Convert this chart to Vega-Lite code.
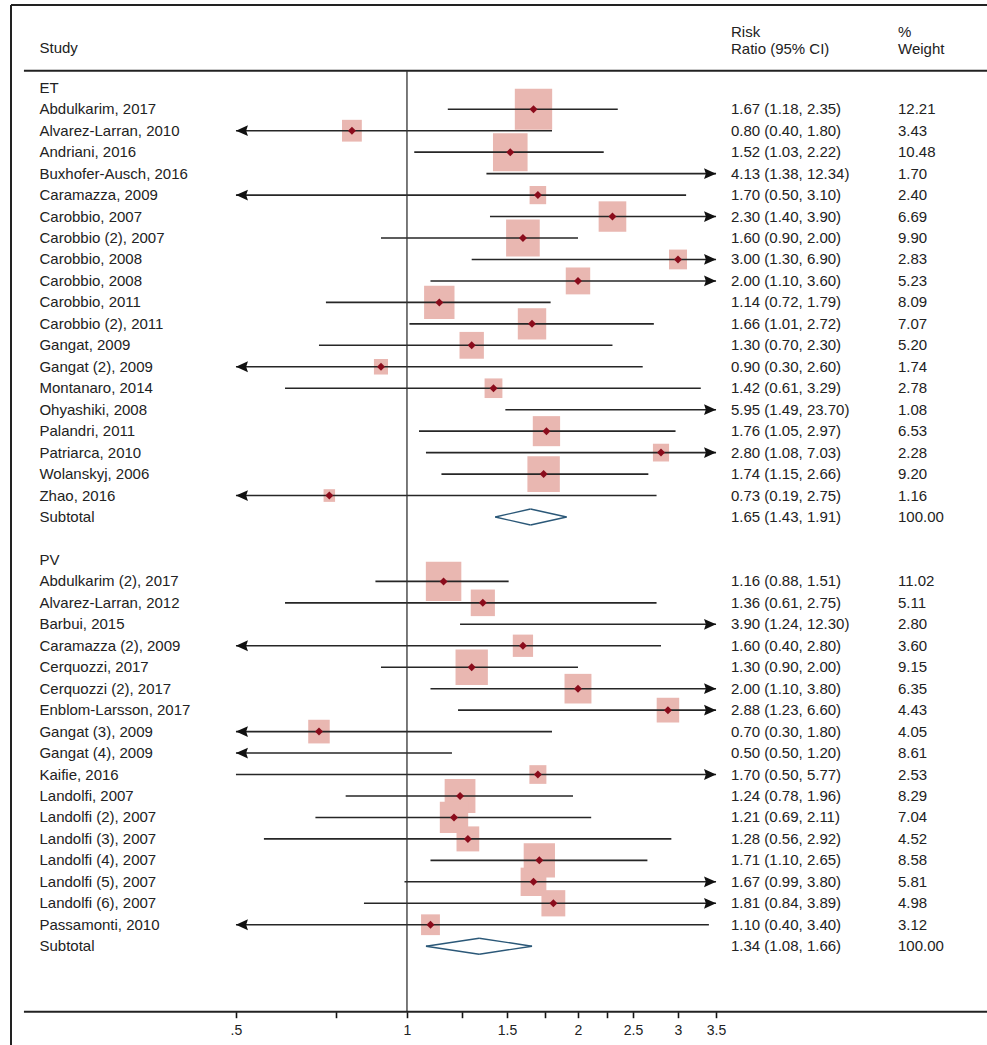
{
  "$schema": "https://vega.github.io/schema/vega-lite/v6.json",
  "width": 976,
  "height": 1040,
  "autosize": {"type": "none"},
  "padding": {"left": 11, "top": 5, "right": 0, "bottom": 0},
  "background": "white",
  "config": {
    "view": {"stroke": null},
    "font": "Liberation Sans",
    "text": {"font": "Liberation Sans", "fontSize": 15, "color": "#222", "align": "left", "baseline": "middle"}
  },
  "datasets": {
    "rows": [
      {"row": 0, "label": "ET", "kind": "group"},
      {"row": 1, "label": "Abdulkarim, 2017", "kind": "study", "rr": 1.67, "lo": 1.18, "hi": 2.35, "ci": "1.67 (1.18, 2.35)", "wt": "12.21", "w": 12.21},
      {"row": 2, "label": "Alvarez-Larran, 2010", "kind": "study", "rr": 0.80, "lo": 0.40, "hi": 1.80, "ci": "0.80 (0.40, 1.80)", "wt": "3.43", "w": 3.43},
      {"row": 3, "label": "Andriani, 2016", "kind": "study", "rr": 1.52, "lo": 1.03, "hi": 2.22, "ci": "1.52 (1.03, 2.22)", "wt": "10.48", "w": 10.48},
      {"row": 4, "label": "Buxhofer-Ausch, 2016", "kind": "study", "rr": 4.13, "lo": 1.38, "hi": 12.34, "ci": "4.13 (1.38, 12.34)", "wt": "1.70", "w": 1.70},
      {"row": 5, "label": "Caramazza, 2009", "kind": "study", "rr": 1.70, "lo": 0.497, "hi": 3.10, "ci": "1.70 (0.50, 3.10)", "wt": "2.40", "w": 2.40},
      {"row": 6, "label": "Carobbio, 2007", "kind": "study", "rr": 2.30, "lo": 1.40, "hi": 3.90, "ci": "2.30 (1.40, 3.90)", "wt": "6.69", "w": 6.69},
      {"row": 7, "label": "Carobbio (2), 2007", "kind": "study", "rr": 1.60, "lo": 0.90, "hi": 2.00, "ci": "1.60 (0.90, 2.00)", "wt": "9.90", "w": 9.90},
      {"row": 8, "label": "Carobbio, 2008", "kind": "study", "rr": 3.00, "lo": 1.30, "hi": 6.90, "ci": "3.00 (1.30, 6.90)", "wt": "2.83", "w": 2.83},
      {"row": 9, "label": "Carobbio, 2008", "kind": "study", "rr": 2.00, "lo": 1.10, "hi": 3.60, "ci": "2.00 (1.10, 3.60)", "wt": "5.23", "w": 5.23},
      {"row": 10, "label": "Carobbio, 2011", "kind": "study", "rr": 1.14, "lo": 0.72, "hi": 1.79, "ci": "1.14 (0.72, 1.79)", "wt": "8.09", "w": 8.09},
      {"row": 11, "label": "Carobbio (2), 2011", "kind": "study", "rr": 1.66, "lo": 1.01, "hi": 2.72, "ci": "1.66 (1.01, 2.72)", "wt": "7.07", "w": 7.07},
      {"row": 12, "label": "Gangat, 2009", "kind": "study", "rr": 1.30, "lo": 0.70, "hi": 2.30, "ci": "1.30 (0.70, 2.30)", "wt": "5.20", "w": 5.20},
      {"row": 13, "label": "Gangat (2), 2009", "kind": "study", "rr": 0.90, "lo": 0.30, "hi": 2.60, "ci": "0.90 (0.30, 2.60)", "wt": "1.74", "w": 1.74},
      {"row": 14, "label": "Montanaro, 2014", "kind": "study", "rr": 1.42, "lo": 0.61, "hi": 3.29, "ci": "1.42 (0.61, 3.29)", "wt": "2.78", "w": 2.78},
      {"row": 15, "label": "Ohyashiki, 2008", "kind": "study", "rr": 5.95, "lo": 1.49, "hi": 23.70, "ci": "5.95 (1.49, 23.70)", "wt": "1.08", "w": 1.08},
      {"row": 16, "label": "Palandri, 2011", "kind": "study", "rr": 1.76, "lo": 1.05, "hi": 2.97, "ci": "1.76 (1.05, 2.97)", "wt": "6.53", "w": 6.53},
      {"row": 17, "label": "Patriarca, 2010", "kind": "study", "rr": 2.80, "lo": 1.08, "hi": 7.03, "ci": "2.80 (1.08, 7.03)", "wt": "2.28", "w": 2.28},
      {"row": 18, "label": "Wolanskyj, 2006", "kind": "study", "rr": 1.74, "lo": 1.15, "hi": 2.66, "ci": "1.74 (1.15, 2.66)", "wt": "9.20", "w": 9.20},
      {"row": 19, "label": "Zhao, 2016", "kind": "study", "rr": 0.73, "lo": 0.19, "hi": 2.75, "ci": "0.73 (0.19, 2.75)", "wt": "1.16", "w": 1.16},
      {"row": 20, "label": "Subtotal", "kind": "sub", "rr": 1.65, "lo": 1.43, "hi": 1.91, "ci": "1.65 (1.43, 1.91)", "wt": "100.00", "w": 100},
      {"row": 22, "label": "PV", "kind": "group"},
      {"row": 23, "label": "Abdulkarim (2), 2017", "kind": "study", "rr": 1.16, "lo": 0.88, "hi": 1.51, "ci": "1.16 (0.88, 1.51)", "wt": "11.02", "w": 11.02},
      {"row": 24, "label": "Alvarez-Larran, 2012", "kind": "study", "rr": 1.36, "lo": 0.61, "hi": 2.75, "ci": "1.36 (0.61, 2.75)", "wt": "5.11", "w": 5.11},
      {"row": 25, "label": "Barbui, 2015", "kind": "study", "rr": 3.90, "lo": 1.24, "hi": 12.30, "ci": "3.90 (1.24, 12.30)", "wt": "2.80", "w": 2.80},
      {"row": 26, "label": "Caramazza (2), 2009", "kind": "study", "rr": 1.60, "lo": 0.40, "hi": 2.80, "ci": "1.60 (0.40, 2.80)", "wt": "3.60", "w": 3.60},
      {"row": 27, "label": "Cerquozzi, 2017", "kind": "study", "rr": 1.30, "lo": 0.90, "hi": 2.00, "ci": "1.30 (0.90, 2.00)", "wt": "9.15", "w": 9.15},
      {"row": 28, "label": "Cerquozzi (2), 2017", "kind": "study", "rr": 2.00, "lo": 1.10, "hi": 3.80, "ci": "2.00 (1.10, 3.80)", "wt": "6.35", "w": 6.35},
      {"row": 29, "label": "Enblom-Larsson, 2017", "kind": "study", "rr": 2.88, "lo": 1.23, "hi": 6.60, "ci": "2.88 (1.23, 6.60)", "wt": "4.43", "w": 4.43},
      {"row": 30, "label": "Gangat (3), 2009", "kind": "study", "rr": 0.70, "lo": 0.30, "hi": 1.80, "ci": "0.70 (0.30, 1.80)", "wt": "4.05", "w": 4.05},
      {"row": 31, "label": "Gangat (4), 2009", "kind": "study", "rr": 0.497, "lo": 0.497, "hi": 1.20, "ci": "0.50 (0.50, 1.20)", "wt": "8.61", "w": 8.61},
      {"row": 32, "label": "Kaifie, 2016", "kind": "study", "rr": 1.70, "lo": 0.50, "hi": 5.77, "ci": "1.70 (0.50, 5.77)", "wt": "2.53", "w": 2.53},
      {"row": 33, "label": "Landolfi, 2007", "kind": "study", "rr": 1.24, "lo": 0.78, "hi": 1.96, "ci": "1.24 (0.78, 1.96)", "wt": "8.29", "w": 8.29},
      {"row": 34, "label": "Landolfi (2), 2007", "kind": "study", "rr": 1.21, "lo": 0.69, "hi": 2.11, "ci": "1.21 (0.69, 2.11)", "wt": "7.04", "w": 7.04},
      {"row": 35, "label": "Landolfi (3), 2007", "kind": "study", "rr": 1.28, "lo": 0.56, "hi": 2.92, "ci": "1.28 (0.56, 2.92)", "wt": "4.52", "w": 4.52},
      {"row": 36, "label": "Landolfi (4), 2007", "kind": "study", "rr": 1.71, "lo": 1.10, "hi": 2.65, "ci": "1.71 (1.10, 2.65)", "wt": "8.58", "w": 8.58},
      {"row": 37, "label": "Landolfi (5), 2007", "kind": "study", "rr": 1.67, "lo": 0.99, "hi": 3.80, "ci": "1.67 (0.99, 3.80)", "wt": "5.81", "w": 5.81},
      {"row": 38, "label": "Landolfi (6), 2007", "kind": "study", "rr": 1.81, "lo": 0.84, "hi": 3.89, "ci": "1.81 (0.84, 3.89)", "wt": "4.98", "w": 4.98},
      {"row": 39, "label": "Passamonti, 2010", "kind": "study", "rr": 1.10, "lo": 0.40, "hi": 3.40, "ci": "1.10 (0.40, 3.40)", "wt": "3.12", "w": 3.12},
      {"row": 40, "label": "Subtotal", "kind": "sub", "rr": 1.34, "lo": 1.08, "hi": 1.66, "ci": "1.34 (1.08, 1.66)", "wt": "100.00", "w": 100}
    ]
  },
  "data": {"name": "rows"},
  "layer": [
    {
      "transform": [{"filter": "datum.kind == 'study' && datum.rr >= 0.5 && datum.rr <= 3.5"}],
      "mark": {"type": "point", "shape": "M-1,-1.1L1,-1.1L1,1.1L-1,1.1Z", "filled": true, "fill": "#e9b7b1", "opacity": 1, "strokeWidth": 0},
      "encoding": {
        "x": {"field": "rr", "type": "quantitative", "title": null, "scale": {"type": "log", "domain": [0.2009, 10.496], "nice": false, "zero": false}},
        "y": {"field": "row", "type": "quantitative", "axis": null, "scale": {"domain": [-3.858, 44.604], "reverse": true, "nice": false, "zero": false}},
        "size": {"field": "w", "type": "quantitative", "scale": {"type": "linear", "domain": [0, 12.21], "range": [0, 1395], "zero": true}, "legend": null}
      }
    },
    {
      "transform": [{"filter": "datum.kind == 'study' && datum.lo >= 0.5 && datum.hi <= 3.5"}],
      "mark": {"type": "rule", "stroke": "#262626", "strokeWidth": 1.6},
      "encoding": {
        "x": {
          "field": "lo", "type": "quantitative", "title": null,
          "axis": {
            "values": [0.5, 0.75, 1, 1.25, 1.5, 1.75, 2, 2.25, 2.5, 3, 3.5],
            "format": ".2~f",
            "labelExpr": "datum.value == 0.5 ? '.5' : (datum.value == 0.75 || datum.value == 1.25 || datum.value == 1.75 || datum.value == 2.25) ? '' : datum.label",
            "offset": -33.3,
            "domain": false,
            "grid": false,
            "ticks": true,
            "tickSize": 6,
            "tickWidth": 1.6,
            "tickColor": "#111",
            "tickOpacity": 1,
            "labelFont": "Liberation Sans Narrow, Liberation Sans",
            "labelFontSize": 14,
            "labelColor": "#222",
            "labelPadding": 6,
            "labelFlush": false,
            "labelOverlap": false,
            "title": null
          }
        },
        "x2": {"field": "hi"},
        "y": {"field": "row", "type": "quantitative", "axis": null}
      }
    },
    {
      "transform": [{"filter": "datum.kind == 'study' && datum.lo < 0.5 && datum.hi <= 3.5"}],
      "mark": {"type": "rule", "stroke": "#262626", "strokeWidth": 1.6},
      "encoding": {
        "x": {"field": "hi", "type": "quantitative", "title": null},
        "x2": {"datum": 0.5},
        "y": {"field": "row", "type": "quantitative", "axis": null}
      }
    },
    {
      "transform": [{"filter": "datum.kind == 'study' && datum.lo >= 0.5 && datum.hi > 3.5"}],
      "mark": {"type": "rule", "stroke": "#262626", "strokeWidth": 1.6},
      "encoding": {
        "x": {"field": "lo", "type": "quantitative", "title": null},
        "x2": {"datum": 3.5},
        "y": {"field": "row", "type": "quantitative", "axis": null}
      }
    },
    {
      "transform": [{"filter": "datum.kind == 'study' && datum.lo < 0.5"}],
      "mark": {"type": "point", "shape": "M0,0L1,-0.45L0.85,0L1,0.45Z", "filled": true, "fill": "#111", "opacity": 1, "size": 576, "strokeWidth": 0},
      "encoding": {
        "x": {"datum": 0.5, "type": "quantitative", "title": null},
        "y": {"field": "row", "type": "quantitative", "axis": null}
      }
    },
    {
      "transform": [{"filter": "datum.kind == 'study' && datum.hi > 3.5"}],
      "mark": {"type": "point", "shape": "M0,0L-1,-0.45L-0.85,0L-1,0.45Z", "filled": true, "fill": "#111", "opacity": 1, "size": 576, "strokeWidth": 0},
      "encoding": {
        "x": {"datum": 3.5, "type": "quantitative", "title": null},
        "y": {"field": "row", "type": "quantitative", "axis": null}
      }
    },
    {
      "transform": [{"filter": "datum.kind == 'study' && datum.rr >= 0.5 && datum.rr <= 3.5"}],
      "mark": {"type": "point", "shape": "diamond", "filled": true, "fill": "#8b0c1c", "opacity": 1, "size": 64, "strokeWidth": 0},
      "encoding": {
        "x": {"field": "rr", "type": "quantitative", "title": null},
        "y": {"field": "row", "type": "quantitative", "axis": null}
      }
    },
    {
      "transform": [{"filter": "datum.kind == 'sub'"}],
      "mark": {"type": "rule", "stroke": "#2b5878", "strokeWidth": 1.4, "y2Offset": -8},
      "encoding": {
        "x": {"field": "lo", "type": "quantitative", "title": null},
        "x2": {"field": "rr"},
        "y": {"field": "row", "type": "quantitative", "axis": null},
        "y2": {"field": "row"}
      }
    },
    {
      "transform": [{"filter": "datum.kind == 'sub'"}],
      "mark": {"type": "rule", "stroke": "#2b5878", "strokeWidth": 1.4, "y2Offset": 8},
      "encoding": {
        "x": {"field": "lo", "type": "quantitative", "title": null},
        "x2": {"field": "rr"},
        "y": {"field": "row", "type": "quantitative", "axis": null},
        "y2": {"field": "row"}
      }
    },
    {
      "transform": [{"filter": "datum.kind == 'sub'"}],
      "mark": {"type": "rule", "stroke": "#2b5878", "strokeWidth": 1.4, "yOffset": -8},
      "encoding": {
        "x": {"field": "rr", "type": "quantitative", "title": null},
        "x2": {"field": "hi"},
        "y": {"field": "row", "type": "quantitative", "axis": null},
        "y2": {"field": "row"}
      }
    },
    {
      "transform": [{"filter": "datum.kind == 'sub'"}],
      "mark": {"type": "rule", "stroke": "#2b5878", "strokeWidth": 1.4, "yOffset": 8},
      "encoding": {
        "x": {"field": "rr", "type": "quantitative", "title": null},
        "x2": {"field": "hi"},
        "y": {"field": "row", "type": "quantitative", "axis": null},
        "y2": {"field": "row"}
      }
    },
    {
      "mark": {"type": "text"},
      "encoding": {
        "x": {"datum": 0.22546, "type": "quantitative", "title": null},
        "y": {"field": "row", "type": "quantitative", "axis": null},
        "text": {"field": "label", "type": "nominal"}
      }
    },
    {
      "transform": [{"filter": "datum.kind != 'group'"}],
      "mark": {"type": "text"},
      "encoding": {
        "x": {"datum": 3.7186, "type": "quantitative", "title": null},
        "y": {"field": "row", "type": "quantitative", "axis": null},
        "text": {"field": "ci", "type": "nominal"}
      }
    },
    {
      "transform": [{"filter": "datum.kind != 'group'"}],
      "mark": {"type": "text"},
      "encoding": {
        "x": {"datum": 7.3172, "type": "quantitative", "title": null},
        "y": {"field": "row", "type": "quantitative", "axis": null},
        "text": {"field": "wt", "type": "nominal"}
      }
    },
    {
      "data": {"values": [{"row": -2, "study": "Study", "rrh": "Risk\nRatio (95% CI)", "wth": "%\nWeight"}]},
      "mark": {"type": "text", "yOffset": 3},
      "encoding": {
        "x": {"datum": 0.22546, "type": "quantitative", "title": null},
        "y": {"field": "row", "type": "quantitative", "axis": null},
        "text": {"field": "study", "type": "nominal"}
      }
    },
    {
      "data": {"values": [{"row": -2, "study": "Study", "rrh": "Risk\nRatio (95% CI)", "wth": "%\nWeight"}]},
      "mark": {"type": "text", "baseline": "top", "yOffset": -20, "lineBreak": "\n", "lineHeight": 17},
      "encoding": {
        "x": {"datum": 3.7186, "type": "quantitative", "title": null},
        "y": {"field": "row", "type": "quantitative", "axis": null},
        "text": {"field": "rrh", "type": "nominal"}
      }
    },
    {
      "data": {"values": [{"row": -2, "study": "Study", "rrh": "Risk\nRatio (95% CI)", "wth": "%\nWeight"}]},
      "mark": {"type": "text", "baseline": "top", "yOffset": -20, "lineBreak": "\n", "lineHeight": 17},
      "encoding": {
        "x": {"datum": 7.3172, "type": "quantitative", "title": null},
        "y": {"field": "row", "type": "quantitative", "axis": null},
        "text": {"field": "wth", "type": "nominal"}
      }
    },
    {
      "data": {"values": [{}]},
      "mark": {"type": "rule", "stroke": "#222", "strokeWidth": 2},
      "encoding": {
        "y": {"datum": -3.858, "type": "quantitative", "axis": null}
      }
    },
    {
      "data": {"values": [{}]},
      "mark": {"type": "rule", "stroke": "#222", "strokeWidth": 2},
      "encoding": {
        "x": {"datum": 0.2009, "type": "quantitative", "title": null}
      }
    },
    {
      "data": {"values": [{}]},
      "mark": {"type": "rule", "stroke": "#222", "strokeWidth": 2},
      "encoding": {
        "x": {"datum": 0.21172, "type": "quantitative", "title": null},
        "x2": {"datum": 10.496},
        "y": {"datum": -0.797, "type": "quantitative", "axis": null}
      }
    },
    {
      "data": {"values": [{}]},
      "mark": {"type": "rule", "stroke": "#333", "strokeWidth": 1.3},
      "encoding": {
        "x": {"datum": 1, "type": "quantitative", "title": null},
        "y": {"datum": -0.797, "type": "quantitative", "axis": null},
        "y2": {"datum": 43.053}
      }
    },
    {
      "data": {"values": [{}]},
      "mark": {"type": "rule", "stroke": "#222", "strokeWidth": 2},
      "encoding": {
        "x": {"datum": 0.21172, "type": "quantitative", "title": null},
        "x2": {"datum": 10.496},
        "y": {"datum": 43.053, "type": "quantitative", "axis": null}
      }
    }
  ]
}
